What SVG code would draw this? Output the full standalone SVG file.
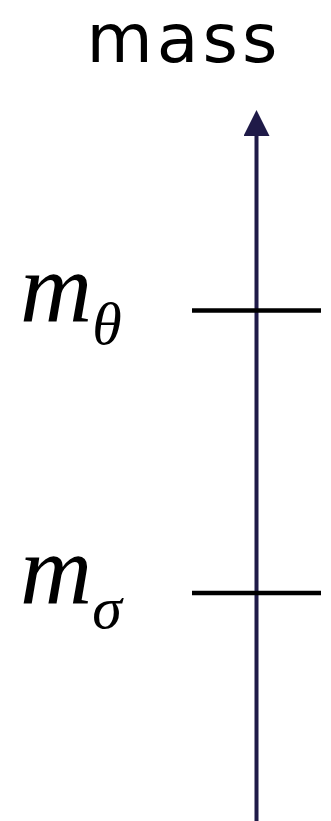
<svg xmlns="http://www.w3.org/2000/svg" width="331" height="821" viewBox="0 0 331 821">
<style>
.lbl{font-family:"DejaVu Sans","Liberation Sans",sans-serif;fill:#000}
.m{font-family:"Liberation Serif","Times New Roman",serif;font-style:italic;fill:#000}
.tick{stroke:#000;stroke-width:4.5;fill:none}
.axis{stroke:#1f1a48;stroke-width:4;fill:none}
</style>
<defs>
<marker id="ah" markerUnits="userSpaceOnUse" markerWidth="26" markerHeight="26" viewBox="0 0 26 26" refX="0" refY="13" orient="auto">
<path d="M0,0 L26,13 L0,26 Z" fill="#1f1a48"/>
</marker>
</defs>
<g id="title"><text class="lbl" x="184" y="62" font-size="68" text-anchor="middle" letter-spacing="4">mass</text></g>
<g id="connectors">
<line class="axis" x1="256.5" y1="821" x2="256.5" y2="136" marker-end="url(#ah)"/>
</g>
<g id="m-theta">
<line class="tick" x1="192" y1="310.5" x2="321" y2="310.5"/>
<text class="m" x="20" y="321" font-size="100">m<tspan font-size="60" dy="23">θ</tspan></text>
</g>
<g id="m-sigma">
<line class="tick" x1="192" y1="593" x2="321" y2="593"/>
<text class="m" x="20" y="603" font-size="100">m<tspan font-size="60" dy="25">σ</tspan></text>
</g>
</svg>
